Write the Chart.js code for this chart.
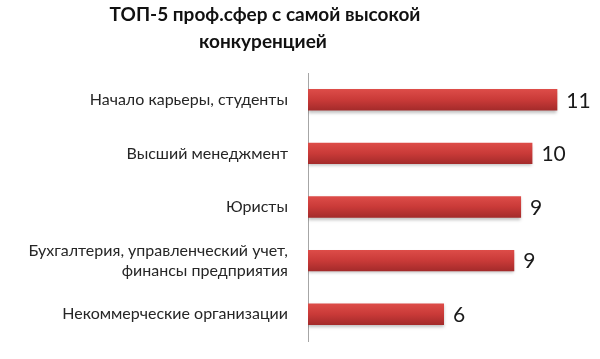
<!DOCTYPE html>
<html>
<head>
<meta charset="utf-8">
<script src="https://cdn.jsdelivr.net/npm/chart.js@4"></script>
<style>
body { margin: 0; background: #fff; }
#wrap { width: 600px; height: 359px; }
</style>
</head>
<body>
<div id="wrap"><canvas id="myChart"></canvas></div>
<script>
// data (labels show rounded values)
var categories = [
    'Начало карьеры, студенты',
    'Высший менеджмент',
    'Юристы',
    ['Бухгалтерия, управленческий учет,', 'финансы предприятия'],
    'Некоммерческие организации'
]
var values = [11, 9.9, 9.4, 9.1, 6.0]
var title_lines = ['ТОП-5 проф.сфер с самой высокой', 'конкуренцией']

var font_family = 'Lato, "Open Sans", sans-serif'

function bar_fill(c) {
    var y = c.chart.scales.y
    if (!y || y.top === undefined) return '#c43a38'
    var py = y.getPixelForValue(c.dataIndex)
    var g = c.chart.ctx.createLinearGradient(0, py - 11, 0, py + 11)
    g.addColorStop(0, '#de4d49')
    g.addColorStop(0.5, '#c93a38')
    g.addColorStop(1, '#a22a2a')
    return g
}

// title is drawn by hand: in the picture it sits left of the canvas centre
const title_plugin = {
    id: 'left_title',
    afterDraw: (chart) => {
        const ctx = chart.ctx
        ctx.save()
        ctx.font = 'bold 19px ' + font_family
        ctx.fillStyle = '#111'
        ctx.textAlign = 'center'
        ctx.textBaseline = 'alphabetic'
        ctx.fillText(title_lines[0], 265, 21)
        ctx.fillText(title_lines[1], 263, 48)
        ctx.restore()
    }
}

const shadow_plugin = {
    id: 'bar_shadow',
    beforeDatasetsDraw: (chart) => {
        const ctx = chart.ctx
        ctx.save()
        ctx.shadowColor = 'rgba(0,0,0,0.25)'
        ctx.shadowOffsetY = 2
        ctx.shadowBlur = 3
    },
    afterDatasetsDraw: (chart) => {
        chart.ctx.restore()
    }
}

const value_labels = {
    id: 'value_labels',
    afterDatasetsDraw: (chart) => {
        const ctx = chart.ctx
        const meta = chart.getDatasetMeta(0)
        ctx.save()
        ctx.font = '21px ' + font_family
        ctx.fillStyle = '#1a1a1a'
        ctx.textAlign = 'left'
        ctx.textBaseline = 'middle'
        meta.data.forEach(function (bar, i) {
            ctx.fillText(String(Math.round(values[i])), bar.x + 9, bar.y + 1)
        })
        ctx.restore()
    }
}

var the_chart_canvas = document.getElementById('myChart').getContext('2d')
var myChart = new Chart(the_chart_canvas, {
    type: 'bar',
    data: {
        labels: categories,
        datasets: [{
            data: values,
            backgroundColor: bar_fill,
            borderWidth: 0,
            barPercentage: 0.4,
            categoryPercentage: 1
        }]
    },
    options: {
        indexAxis: 'y',
        responsive: true,
        maintainAspectRatio: false,
        animation: false,
        layout: { padding: { left: 0, right: 20, top: 73, bottom: 18 } },
        plugins: {
            legend: { display: false },
            tooltip: { enabled: false },
            title: { display: false }
        },
        scales: {
            x: {
                display: false,
                min: 0,
                max: 12
            },
            y: {
                afterFit: function (scale) {
                    scale.width = 308
                    scale.paddingTop = 0
                    scale.paddingBottom = 0
                },
                grid: { display: false, drawTicks: false },
                border: { display: true, color: '#a6a6a6', width: 1 },
                ticks: {
                    color: '#262626',
                    padding: 20,
                    font: { family: font_family, size: 16, lineHeight: 1.25 }
                }
            }
        }
    },
    plugins: [shadow_plugin, value_labels, title_plugin]
})
</script>
</body>
</html>
